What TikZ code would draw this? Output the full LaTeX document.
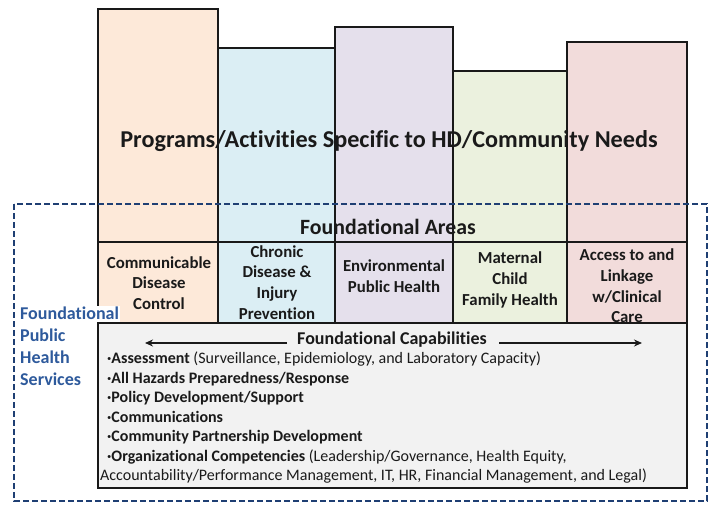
\documentclass[tikz,border=0pt]{standalone}
\usepackage{fontspec}
\setmainfont{Carlito}[RawFeature=-liga]
\usetikzlibrary{arrows.meta}
\definecolor{corange}{HTML}{FDE9D9}
\definecolor{cblue}{HTML}{DBEEF4}
\definecolor{cpurple}{HTML}{E5E0EC}
\definecolor{cgreen}{HTML}{EBF1DE}
\definecolor{cpink}{HTML}{F2DCDB}
\definecolor{cgray}{HTML}{F2F2F2}
\definecolor{navy}{HTML}{1F3F73}
\definecolor{fblue}{HTML}{2E5A9C}
\definecolor{txt}{HTML}{1A1A1A}
\begin{document}
\begin{tikzpicture}[x=1pt,y=-1pt,
  box/.style={draw=black!90, line width=1.7pt},
  celltext/.style={align=center, text=txt, font=\bfseries\fontsize{16.8}{20.7}\selectfont, inner sep=0pt},
  bigtext/.style={text=txt, font=\bfseries\fontsize{24.2}{28}\selectfont, inner sep=0pt},
  arr/.style={-{Stealth[length=8pt,width=7pt]}, line width=1.3pt, draw=txt}]
\useasboundingbox (0,0) rectangle (714,506);
\fill[white] (0,0) rectangle (714,506);
% program columns
\draw[box, fill=corange] (98,9) rectangle (218,242);
\draw[box, fill=cblue] (218,48) rectangle (335,242);
\draw[box, fill=cpurple] (335,27) rectangle (453,242);
\draw[box, fill=cgreen] (453,71) rectangle (567,242);
\draw[box, fill=cpink] (567,42) rectangle (687,242);
\node[bigtext] (prog) at (389,141) {Programs/Activities Specific to HD/Community Needs};
\node[bigtext, font=\bfseries\fontsize{21.8}{26}\selectfont] (areas) at (388,227) {Foundational Areas};
% foundational areas cells
\draw[box, fill=corange] (98,242) rectangle (218,323);
\draw[box, fill=cblue] (218,242) rectangle (335,323);
\draw[box, fill=cpurple] (335,242) rectangle (453,323);
\draw[box, fill=cgreen] (453,242) rectangle (567,323);
\draw[box, fill=cpink] (567,242) rectangle (687,323);
\node[celltext] (cd) at (159,283) {Communicable\\Disease\\Control};
\node[celltext] (ch) at (277,282.5) {Chronic\\Disease \&\\Injury\\Prevention};
\node[celltext] (env) at (394,276.5) {Environmental\\Public Health};
\node[celltext] (mch) at (510,280) {Maternal\\Child\\Family Health};
\node[celltext] (acc) at (627,286) {Access to and\\Linkage\\w/Clinical\\Care};
% side label
\node[anchor=west, align=left, fill=white, inner sep=1pt, text=fblue,
  font=\bfseries\fontsize{18}{22}\selectfont] (fphs) at (19,346)
  {Foundational\\Public\\Health\\Services};
% capabilities
\draw[box, fill=cgray] (98,323) rectangle (687,488);
\node[celltext, font=\bfseries\fontsize{18}{22}\selectfont] (cap) at (392,340) {Foundational Capabilities};
\coordinate (ls) at (287,343);
\coordinate (la) at (145,343);
\coordinate (rs) at (499,343);
\coordinate (ra) at (642,343);
\draw[arr] (ls) -- (la);
\draw[arr] (rs) -- (ra);
\node[anchor=north west, align=left, inner sep=0pt, text=txt,
  font=\fontsize{16}{19.5}\selectfont] (list) at (100,352)
  {\hspace*{7pt}\textbf{·Assessment} (Surveillance, Epidemiology, and Laboratory Capacity)\\
   \hspace*{7pt}\textbf{·All Hazards Preparedness/Response}\\
   \hspace*{7pt}\textbf{·Policy Development/Support}\\
   \hspace*{7pt}\textbf{·Communications}\\
   \hspace*{7pt}\textbf{·Community Partnership Development}\\
   \hspace*{7pt}\textbf{·Organizational Competencies} (Leadership/Governance, Health Equity,\\
   Accountability/Performance Management, IT, HR, Financial Management, and Legal)};
% dashed services frame
\draw[navy, line width=1.5pt, dash pattern=on 6pt off 3pt] (14,204) rectangle (707,501);
\end{tikzpicture}
\end{document}
